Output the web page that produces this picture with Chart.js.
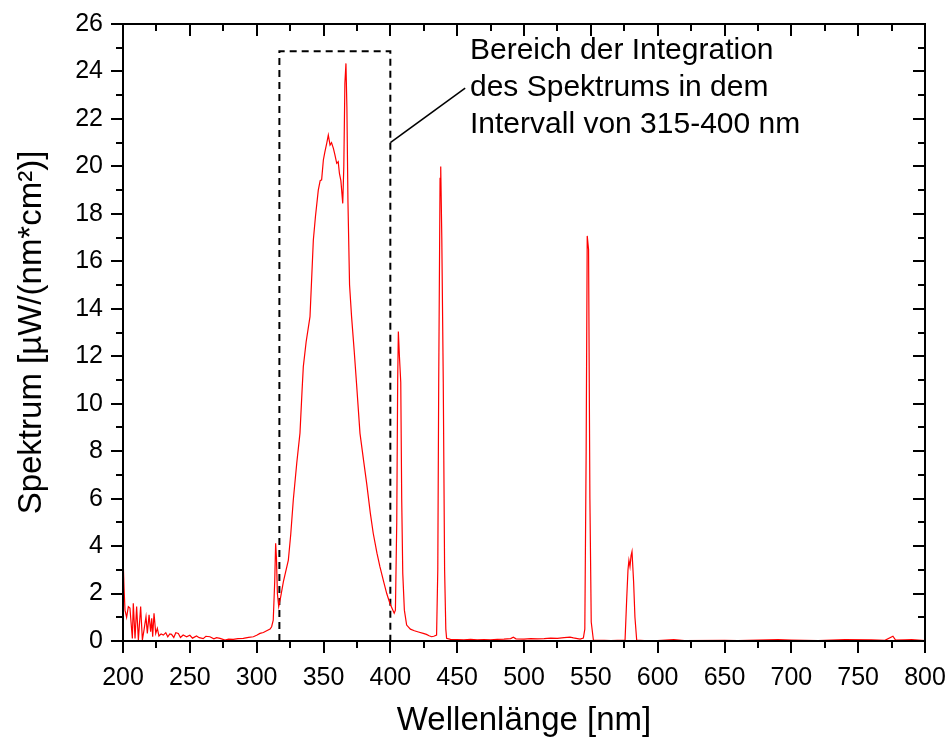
<!DOCTYPE html>
<html>
<head>
<meta charset="utf-8">
<script src="https://cdn.jsdelivr.net/npm/chart.js@4/dist/chart.umd.min.js"></script>
<style>
html,body{margin:0;padding:0;background:#fff;}
canvas{display:block;}
</style>
</head>
<body>
<canvas id="c" width="949" height="740"></canvas>
<script>
// Wavelength (nm) and spectrum values (µW/(nm*cm²))
const wavelength = [
200,200.8,201.5,202.7,204,205.2,206,207,207.7,209,210.2,211.5,213.2,214.5,215.7,217.2,218.2,219.5,220.7,221.5,222.2,223.2,224.5,225.7,226.9,228.5,230.2,232,233.5,235,236.3,238,239.5,241.4,243,245,247.6,250,252,255,257,260,262,265,268,270,272.6,276.3,279,282.5,286,290,294,297.5,300,302.5,305,307.5,310,311.2,312.4,313.5,314.2,314.8,315.5,316.5,318,320,323.7,325.5,327.4,330,332.4,334,334.9,337,339.9,342.4,344,346.1,347.5,348.6,349.9,351,352.4,353.6,354.9,356,357.4,358.5,359.9,361,361.9,363,364.4,365.2,366,366.8,367.5,368.3,369.5,371,373,374.7,377.3,380,382.3,385,387.2,390,392.2,395,397.3,399.7,401.5,402.9,403.8,404.8,405.5,406,406.8,407.8,408.5,409.3,410.5,412.2,415,418,421,424.6,427,429,430.9,432.5,434.6,435.5,436.2,437.2,437.7,438.5,439.6,440.6,441.5,442.1,445,450,455,460,465,470,475,480,485,490,492,494,500,505,510,515,520,525,530,534.4,537,540,542,544.4,545.5,546.5,547.3,548.3,549.3,550.3,551.9,555,560,565,570,575.6,576.8,577.8,578.5,579.3,580.1,580.8,582,583,584.3,590,600,612,620,650,660,690,700,720,740,760,770,776,778,785,790,800
];
const spectrum = [
3.6,2.2,1.3,1.0,1.45,1.39,0.8,0.11,1.59,0.11,1.45,0.04,1.45,0.04,0.46,1.02,0.32,1.1,0.39,0.96,0.18,1.17,0.32,0.53,0.21,0.3,0.25,0.35,0.18,0.3,0.28,0.15,0.35,0.32,0.15,0.25,0.18,0.24,0.12,0.21,0.14,0.1,0.2,0.18,0.09,0.14,0.11,0.04,0.08,0.07,0.1,0.11,0.15,0.18,0.24,0.32,0.36,0.43,0.5,0.6,0.88,2.5,4.12,3.5,2.0,1.45,1.87,2.5,3.41,4.5,5.94,7.5,8.76,10.6,11.56,12.6,13.67,16.9,17.9,19.0,19.4,19.43,20.27,20.6,20.97,21.32,20.9,21.0,20.76,20.5,20.13,20.2,19.71,19.4,18.44,20.0,23.5,24.34,22.5,18.5,15.0,13.67,12.2,10.86,8.75,7.6,6.64,5.4,4.54,3.7,3.13,2.5,2.0,1.58,1.35,1.17,1.3,5,11,13.04,12,10.9,6,2.85,1.3,0.67,0.5,0.43,0.38,0.32,0.28,0.22,0.18,0.2,0.25,3,11,19.5,19.99,17,10.9,3,0.5,0.11,0.07,0.06,0.05,0.07,0.05,0.06,0.05,0.07,0.08,0.1,0.16,0.09,0.08,0.1,0.09,0.1,0.12,0.11,0.14,0.16,0.13,0.1,0.08,0.12,0.5,8,17.07,16.5,6,0.8,0.04,0.03,0.03,0.02,0.03,0.04,1.73,3.0,3.4,3.13,3.6,3.77,2.5,1.0,0.04,0.02,0.02,0.06,0.02,0.03,0.02,0.06,0.04,0.02,0.06,0.05,0.03,0.2,0.04,0.05,0.06,0.02
];
// Integration box (dashed) and leader line
const boxX = [317, 317, 400, 400];
const boxY = [0, 24.85, 24.85, 0];
const leaderX = [400, 456];
const leaderY = [21.0, 23.3];
const annotationLines = ["Bereich der Integration", "des Spektrums in dem", "Intervall von 315-400 nm"];
const xTitle = "Wellenlänge [nm]";
const yTitle = "Spektrum [µW/(nm*cm²)]";
const xMin = 200, xMax = 800, xMajor = 50, xMinor = 25;
const yMin = 0, yMax = 26, yMajor = 2, yMinor = 1;

const FONT = "'Liberation Sans', Arial, Helvetica, sans-serif";
const toXY = (xs, ys) => xs.map((x, i) => ({x: x, y: ys[i]}));

const framePlugin = {
  id: 'frame',
  afterDatasetsDraw(chart) {
    const {ctx, chartArea: a, scales: {x, y}} = chart;
    ctx.save();
    ctx.strokeStyle = '#000';
    ctx.lineWidth = 2;
    ctx.lineCap = 'butt';
    ctx.strokeRect(a.left, a.top, a.right - a.left, a.bottom - a.top);
    const majL = 12, minL = 7;
    ctx.beginPath();
    for (let v = xMin; v <= xMax + 1e-6; v += xMinor) {
      const px = Math.round(x.getPixelForValue(v));
      const L = (Math.abs(v / xMajor - Math.round(v / xMajor)) < 1e-6) ? majL : minL;
      ctx.moveTo(px, a.bottom); ctx.lineTo(px, a.bottom + L);
      ctx.moveTo(px, a.top); ctx.lineTo(px, a.top + L);
    }
    for (let v = yMin; v <= yMax + 1e-6; v += yMinor) {
      const py = Math.round(y.getPixelForValue(v));
      const L = (Math.abs(v / yMajor - Math.round(v / yMajor)) < 1e-6) ? majL : minL;
      ctx.moveTo(a.left, py); ctx.lineTo(a.left - L, py);
      ctx.moveTo(a.right, py); ctx.lineTo(a.right - L, py);
    }
    ctx.stroke();
    // annotation text
    ctx.fillStyle = '#000';
    ctx.font = "30px " + FONT;
    ctx.textAlign = 'left';
    ctx.textBaseline = 'alphabetic';
    const tx = 470;
    annotationLines.forEach((t, i) => ctx.fillText(t, tx, 59 + i * 37));
    ctx.restore();
  }
};

new Chart(document.getElementById('c'), {
  type: 'line',
  data: {
    datasets: [
      {data: toXY(wavelength, spectrum), borderColor: '#ff0000', borderWidth: 1.2, pointRadius: 0, tension: 0},
      {data: toXY(boxX, boxY), borderColor: '#000', borderWidth: 2, borderDash: [7, 5], pointRadius: 0, tension: 0},
      {data: toXY(leaderX, leaderY), borderColor: '#000', borderWidth: 1.6, pointRadius: 0, tension: 0}
    ]
  },
  options: {
    responsive: false,
    animation: false,
    devicePixelRatio: 1,
    layout: {padding: {top: 24, right: 24, left: 0, bottom: 0}},
    plugins: {legend: {display: false}, tooltip: {enabled: false}},
    scales: {
      x: {
        type: 'linear', min: xMin, max: xMax,
        grid: {display: false}, border: {display: false},
        ticks: {stepSize: xMajor, color: '#000', font: {family: FONT, size: 25}, padding: 14, maxRotation: 0, autoSkip: false},
        title: {display: true, text: xTitle, color: '#000', font: {family: FONT, size: 33, lineHeight: 1}, padding: {top: 0, bottom: 3}},
        afterFit(s) { s.height = 99; s.paddingLeft = 0; s.paddingRight = 0; }
      },
      y: {
        type: 'linear', min: yMin, max: yMax,
        grid: {display: false}, border: {display: false},
        ticks: {stepSize: yMajor, color: '#000', font: {family: FONT, size: 25}, padding: 12},
        title: {display: true, text: yTitle, color: '#000', font: {family: FONT, size: 33, lineHeight: 1}, padding: {top: 15, bottom: 0}},
        afterFit(s) { s.width = 123; s.paddingTop = 0; s.paddingBottom = 0; }
      }
    }
  },
  plugins: [framePlugin]
});
</script>
</body>
</html>
